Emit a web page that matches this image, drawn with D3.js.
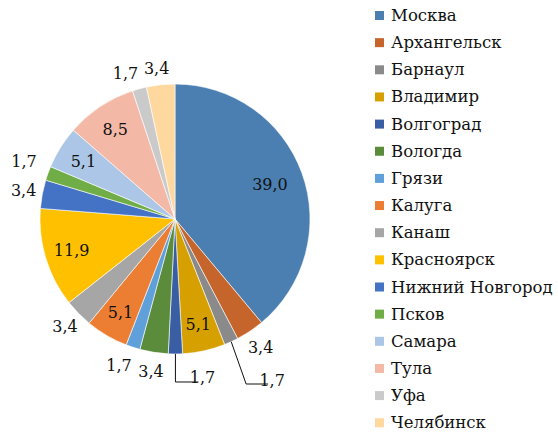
<!DOCTYPE html>
<html>
<head>
<meta charset="utf-8">
<script src="https://cdn.jsdelivr.net/npm/d3@7"></script>
<style>
  body { margin: 0; background: #fff; }
  text { font-family: "DejaVu Serif", "Liberation Serif", serif; fill: #111; }
</style>
</head>
<body>
<div id="chart"></div>
<script>
var WD = 558, HT = 432

// data
var cities = ['Москва','Архангельск','Барнаул','Владимир','Волгоград','Вологда','Грязи','Калуга',
              'Канаш','Красноярск','Нижний Новгород','Псков','Самара','Тула','Уфа','Челябинск']
var shares = [39.0, 3.4, 1.7, 5.1, 1.7, 3.4, 1.7, 5.1, 3.4, 11.9, 3.4, 1.7, 5.1, 8.5, 1.7, 3.4]

var color = ['#4b7fb2','#c5652c','#8a8a8a','#d6a100','#3a5ea3','#5a8c3c','#5fa0da','#ec7e34',
             '#a6a6a6','#ffc000','#4472c4','#70ad47','#abc6e6','#f3b9a6','#cacaca','#ffd8a0']

// label placement: outside for small slices, nudges for crowded ones and the two callouts
var outside = shares.map(function(v){ return v < 5; })
var nudge = {2: [33, 21], 4: [27, 5], 6: [-8, 0], 11: [-6, -5], 14: [-9, 3], 15: [-2, 3]}
var callout = {2: true, 4: true}

var cx = 175, cy = 219, radius = 135

var svg = d3.select("#chart").append("svg")
    .attr("width", WD).attr("height", HT)

var g = svg.append("g").attr("transform", "translate(" + cx + "," + cy + ")")

var pie = d3.pie().sort(null).value(function(d){ return d; })
var arc = d3.arc().innerRadius(0).outerRadius(radius)
var inArc = d3.arc().innerRadius(108).outerRadius(108)
var outArc = d3.arc().innerRadius(154).outerRadius(154)
var edgeArc = d3.arc().innerRadius(radius).outerRadius(radius)

var slices = pie(shares)

g.selectAll("path")
  .data(slices)
  .enter()
  .append("path")
    .attr("d", arc)
    .attr("fill", function(d, i){ return color[i]; })
    .attr("stroke", "#fff")
    .attr("stroke-width", 0.6)

var fmt = function(v){ return v.toFixed(1).replace('.', ','); }

slices.forEach(function(d, i){
  var p = outside[i] ? outArc.centroid(d) : inArc.centroid(d)
  if (i === 0) p = d3.arc().innerRadius(101).outerRadius(101).centroid(d)
  if (nudge[i]) p = [p[0] + nudge[i][0], p[1] + nudge[i][1]]
  if (callout[i]) {
    var e = edgeArc.centroid(d)
    var lx = p[0] - 14, ly = p[1] + 4
    g.append("polyline")
      .attr("points", [e, [e[0] + (lx - 12 - e[0]) * (i === 4 ? 0 : 1), ly], [lx + 10, ly]].map(function(q){ return q.join(","); }).join(" "))
      .attr("fill", "none").attr("stroke", "#111").attr("stroke-width", 1)
  }
  g.append("text")
    .attr("x", p[0]).attr("y", p[1])
    .attr("text-anchor", "middle")
    .attr("dominant-baseline", "central")
    .style("font-size", "16px")
    .text(fmt(shares[i]))
})

// legend
var legend = svg.append("g").attr("transform", "translate(375,15.5)")
var row = legend.selectAll("g")
  .data(cities)
  .enter()
  .append("g")
    .attr("transform", function(d, i){ return "translate(0," + (i * 27.15) + ")"; })

row.append("rect")
  .attr("x", 0).attr("y", -4.5).attr("width", 9).attr("height", 9)
  .attr("fill", function(d, i){ return color[i]; })

row.append("text")
  .attr("x", 16).attr("y", 0)
  .attr("dominant-baseline", "central")
  .style("font-size", "16.5px")
  .text(function(d){ return d; })
</script>
</body>
</html>
